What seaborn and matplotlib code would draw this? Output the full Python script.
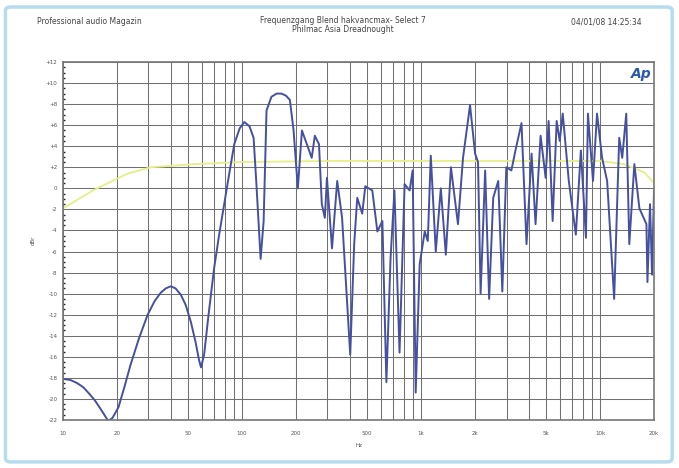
import numpy as np
import pandas as pd
import seaborn as sns
import matplotlib
matplotlib.use("Agg")
import matplotlib.pyplot as plt
from matplotlib.patches import FancyBboxPatch
from matplotlib.ticker import FixedLocator, MultipleLocator, NullFormatter

# ------------------------------------------------------------------------
# measured trace (blue) and reference trace (yellow), read off the plot
# ------------------------------------------------------------------------
freq_hz = [10, 11, 12, 13, 14, 15, 16, 17, 17.9, 18.9,
           20.4, 22, 23.8, 26.5, 29.7, 32.5, 35.2, 37.5, 40, 42.5,
           45.5, 48.5, 51.8, 55, 57.5, 59, 61.4, 65, 69.8, 74.5,
           79.5, 85, 90.5, 97, 103, 110, 116, 120, 127, 132,
           137, 146, 156, 166, 176, 185, 194, 205, 216, 230,
           245, 255, 269, 279, 290, 298, 318, 340, 362, 402,
           423, 440, 469, 488, 534, 570, 608, 640, 675, 710,
           758, 809, 863, 897, 933, 982, 1048, 1090, 1133, 1208,
           1289, 1375, 1468, 1607, 1715, 1877, 2003, 2080, 2150, 2280,
           2399, 2529, 2698, 2843, 2993, 3194, 3366, 3638, 3881, 4142,
           4358, 4650, 4963, 5157, 5431, 5719, 5946, 6183, 6685, 7318,
           7808, 8333, 8551, 9126, 9610, 10256, 10945, 11979, 12784, 13290,
           13996, 14553, 15530, 16573, 18143, 18380, 19000, 19500, 20000]
level_db = [-18.1, -18.2, -18.5, -18.9, -19.5, -20.1, -20.8, -21.5, -22.1, -21.8,
            -20.8, -18.9, -16.8, -14.3, -12.0, -10.7, -9.9, -9.5, -9.3, -9.5,
            -10.1, -11.1, -12.7, -14.6, -16.3, -17.0, -15.8, -12.0, -7.6, -4.4,
            -1.5, 1.5, 4.2, 5.7, 6.3, 5.9, 4.8, 0.7, -6.7, -3.1,
            7.4, 8.7, 9.0, 9.0, 8.8, 8.4, 5.5, 0.0, 5.5, 4.2,
            2.9, 5.0, 4.2, -1.5, -2.8, 1.0, -5.7, 0.7, -2.8, -15.8,
            -5.3, -0.9, -2.4, 0.2, -0.2, -4.1, -3.1, -18.4, -6.7, -0.2,
            -15.6, 0.4, -0.2, 1.7, -19.4, -7.2, -4.1, -5.0, 3.1, -6.0,
            0.0, -6.3, 2.0, -3.4, 2.9, 7.9, 3.3, 2.5, -10.0, 1.7,
            -10.5, -0.9, 0.7, -9.8, 2.0, 1.7, 3.6, 6.2, -5.3, 3.3,
            -3.4, 5.0, 1.0, 6.4, -3.1, 6.4, 4.5, 7.1, 0.7, -4.4,
            3.6, -4.7, 7.1, 0.7, 7.1, 2.9, 0.7, -10.5, 4.8, 2.9,
            7.1, -5.3, 2.3, -1.9, -3.4, -8.9, -1.5, -8.2, -0.2]

ref_freq_hz = [10, 14.7, 22.9, 30.9, 54, 99, 300, 1000, 5000, 10000, 13600, 17700, 20000]
ref_level_db = [-1.9, -0.2, 1.4, 2.0, 2.3, 2.5, 2.6, 2.6, 2.6, 2.6, 2.3, 1.5, 0.5]

x_ticks = [10, 20, 50, 100, 200, 500, 1000, 2000, 5000, 10000, 20000]
x_tick_labels = ["10", "20", "50", "100", "200", "500", "1k", "2k", "5k", "10k", "20k"]
y_ticks = list(range(12, -23, -2))

sns.set_theme(style="white")
plt.rcParams['font.family'] = ['DejaVu Sans']

fig = plt.figure(figsize=(6.79, 4.68), dpi=100)
ax = fig.add_axes([0.0928, 0.1026, 0.8704, 0.7649])

ref = pd.DataFrame({"f": ref_freq_hz, "db": ref_level_db})
meas = pd.DataFrame({"f": freq_hz, "db": level_db})

sns.lineplot(data=ref, x="f", y="db", ax=ax, color="#e6ee86", lw=1.3, estimator=None)
sns.lineplot(data=meas, x="f", y="db", ax=ax, color="#4650a0", lw=1.4, estimator=None)

ax.set_xscale("log")
ax.set_xlim(10, 20000)
ax.set_ylim(-22, 12)

# grid lines (major + minor decades like the AP plot)
ax.xaxis.set_major_locator(FixedLocator(x_ticks))
ax.set_xticklabels(x_tick_labels)
minor = [m * 10 ** d for d in range(1, 5) for m in range(2, 10) if m * 10 ** d < 20000]
ax.xaxis.set_minor_locator(FixedLocator(minor))
ax.xaxis.set_minor_formatter(NullFormatter())
ax.grid(True, which="both", axis="x", color="#707070", lw=0.75)
ax.set_yticks(y_ticks)
ax.set_yticklabels([("+%d" % v) if v > 0 else ("%d" % v) for v in y_ticks])
ax.yaxis.set_minor_locator(MultipleLocator(0.5))
ax.grid(True, which="major", axis="y", color="#707070", lw=0.75)

ax.tick_params(axis="x", which="both", length=0, pad=8, labelsize=4, labelcolor="#555")
ax.tick_params(axis="y", which="major", length=3, direction="in", pad=4, labelsize=4, labelcolor="#555")
ax.tick_params(axis="y", which="minor", length=1.5, direction="in", left=True)
for s in ax.spines.values():
    s.set_color("#777777")
    s.set_linewidth(1.2)

ax.set_xlabel("Hz", fontsize=4, color="#555", labelpad=5)
ax.set_ylabel("")
fig.text(0.049, 0.487, "dBr", fontsize=4, color="#555", rotation=90, ha="center", va="center")

ax.text(0.995, 0.985, "Ap", transform=ax.transAxes, ha="right", va="top",
        fontsize=10, fontweight="bold", style="italic", color="#2a5aa8")

# header texts
fig.text(0.055, 0.953, "Professional audio Magazin", fontsize=5.5, color="#444", va="center")
fig.text(0.505, 0.957, "Frequenzgang Blend hakvancmax- Select 7", fontsize=5.5, color="#444",
         ha="center", va="center")
fig.text(0.505, 0.936, "Philmac Asia Dreadnought", fontsize=5.5, color="#444",
         ha="center", va="center")
fig.text(0.945, 0.953, "04/01/08 14:25:34", fontsize=5.5, color="#444", ha="right", va="center")

# light blue frame round the whole picture
fig.patches.append(FancyBboxPatch((0.008, 0.013), 0.982, 0.972,
                                  boxstyle="round,pad=0,rounding_size=0.008",
                                  transform=fig.transFigure, fill=False,
                                  ec="#b6dcee", lw=2.5))

fig.savefig("out.png", dpi=100)
